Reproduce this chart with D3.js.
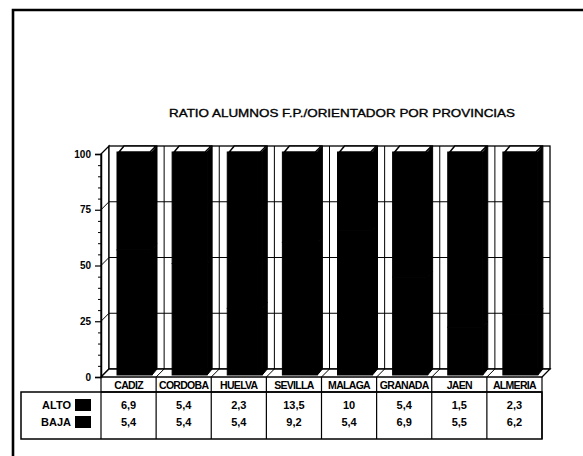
<!DOCTYPE html>
<html>
<head>
<meta charset="utf-8">
<script src="https://cdn.jsdelivr.net/npm/d3@7/dist/d3.min.js"></script>
<style>
  html, body { margin: 0; padding: 0; background: #fff; }
  svg { display: block; }
  text { font-family: "Liberation Sans", Arial, sans-serif; fill: #000; }
</style>
</head>
<body>
<svg id="chart" width="583" height="456"></svg>
<script>
const title = "RATIO ALUMNOS F.P./ORIENTADOR POR PROVINCIAS";
const categories = ["CADIZ", "CORDOBA", "HUELVA", "SEVILLA", "MALAGA", "GRANADA", "JAEN", "ALMERIA"];
const seriesNames = ["ALTO", "BAJA"];
const alto = [6.9, 5.4, 2.3, 13.5, 10, 5.4, 1.5, 2.3];
const baja = [5.4, 5.4, 5.4, 9.2, 5.4, 6.9, 5.5, 6.2];
const yTicks = [0, 25, 50, 75, 100];

const svg = d3.select("#chart");

// frame
svg.append("path")
  .attr("d", "M13,456 L13,10 L583,10")
  .attr("fill", "none").attr("stroke", "#000").attr("stroke-width", 2.6);

svg.append("text")
  .attr("x", 342).attr("y", 117)
  .attr("text-anchor", "middle")
  .attr("textLength", 346).attr("lengthAdjust", "spacingAndGlyphs")
  .style("font-size", "11.5px")
  .style("stroke", "#000").style("stroke-width", 0.35)
  .text(title);

// data: 100% stacked
const rows = categories.map((c, i) => ({ cat: c, ALTO: alto[i], BAJA: baja[i] }));
const stacked = d3.stack().keys(seriesNames).offset(d3.stackOffsetExpand)(rows);

const x0 = 101, x1 = 542;
const dx = 8, dy = -8;     // floor / wall depth
const bdx = 5, bdy = -6;   // bar depth
const x = d3.scaleBand().domain(categories).range([x0, x1]);
const y = d3.scaleLinear().domain([0, 100]).range([377, 154]);
const pct = v => v * 100;

const g = svg.append("g");
// left side wall
g.append("polygon")
  .attr("points", [[x0, y(0)], [x0 + dx, y(0) + dy], [x0 + dx, y(100) + dy], [x0, y(100)]].join(" "))
  .attr("fill", "#fff").attr("stroke", "#000").attr("stroke-width", 1.3);
// back wall
g.append("rect")
  .attr("x", x0 + dx).attr("y", y(100) + dy)
  .attr("width", x1 - x0).attr("height", y(0) - y(100))
  .attr("fill", "#fff").attr("stroke", "#000").attr("stroke-width", 1.3);
// floor
g.append("polygon")
  .attr("points", [[x0, y(0)], [x1, y(0)], [x1 + dx, y(0) + dy], [x0 + dx, y(0) + dy]].join(" "))
  .attr("fill", "#fff").attr("stroke", "#000").attr("stroke-width", 1.3);
// horizontal gridlines
yTicks.filter(t => t > 0 && t < 100).forEach(t => {
  g.append("line").attr("x1", x0 + dx).attr("x2", x1 + dx)
    .attr("y1", y(t) + dy).attr("y2", y(t) + dy)
    .attr("stroke", "#000").attr("stroke-width", 1);
  g.append("line").attr("x1", x0).attr("x2", x0 + dx)
    .attr("y1", y(t)).attr("y2", y(t) + dy)
    .attr("stroke", "#000").attr("stroke-width", 1);
});
// vertical category lines on back wall and floor
categories.slice(1).forEach(c => {
  const xx = x(c);
  g.append("line").attr("x1", xx + dx).attr("x2", xx + dx)
    .attr("y1", y(100) + dy).attr("y2", y(0) + dy)
    .attr("stroke", "#000").attr("stroke-width", 1);
  g.append("line").attr("x1", xx).attr("x2", xx + dx)
    .attr("y1", y(0)).attr("y2", y(0) + dy)
    .attr("stroke", "#000").attr("stroke-width", 1);
});

// bars (100% stacked, both series black)
const bw = 35, boff = 16, lift = 2;
stacked.forEach(layer => {
  layer.forEach((d, i) => {
    const xb = x(categories[i]) + boff;
    const yt = y(pct(d[1])) - lift, yb = y(pct(d[0])) - lift;
    g.append("polygon")
      .attr("points", [[xb + bw, yt], [xb + bw + bdx, yt + bdy], [xb + bw + bdx, yb + bdy], [xb + bw, yb]].join(" "))
      .attr("fill", "#000").attr("stroke", "#000").attr("stroke-width", 1);
    g.append("rect").attr("x", xb).attr("y", yt)
      .attr("width", bw).attr("height", yb - yt)
      .attr("fill", "#000").attr("stroke", "#000").attr("stroke-width", 1);
  });
});
const topLayer = stacked[stacked.length - 1];
topLayer.forEach((d, i) => {
  const xb = x(categories[i]) + boff;
  const yt = y(pct(d[1])) - lift;
  g.append("polygon")
    .attr("points", [[xb + 2, yt], [xb + bw - 2, yt], [xb + bw + bdx - 1, yt + bdy], [xb + bdx + 2, yt + bdy]].join(" "))
    .attr("fill", "#fff").attr("stroke", "#000").attr("stroke-width", 1.5);
});

// axis
const yAxis = d3.axisLeft(y).tickValues(yTicks).tickSize(6).tickPadding(4);
const ax = svg.append("g").attr("transform", `translate(${x0},0)`).call(yAxis);
ax.select(".domain").attr("stroke-width", 1.5);
ax.selectAll(".tick line").attr("stroke-width", 1.2);
ax.selectAll("text").style("font-size", "10px").style("font-weight", "bold").style("font-family", "Liberation Sans, Arial, sans-serif");
const minor = d3.range(0, 101, 5).filter(v => !yTicks.includes(v));
svg.append("g").attr("transform", `translate(${x0},0)`)
  .call(d3.axisLeft(y).tickValues(minor).tickSize(3).tickFormat(""))
  .call(s => s.select(".domain").remove());

// table
const hdrBot = 392, tBot = 439, legLeft = 21;
const tg = svg.append("g");
tg.append("line").attr("x1", x0).attr("x2", x1).attr("y1", hdrBot).attr("y2", hdrBot).attr("stroke", "#000").attr("stroke-width", 1.4);
categories.concat([null]).forEach(c => {
  const xx = c ? x(c) : x1;
  tg.append("line").attr("x1", xx).attr("x2", xx).attr("y1", y(0)).attr("y2", tBot)
    .attr("stroke", "#000").attr("stroke-width", 1.2);
});
tg.append("rect").attr("x", legLeft).attr("y", hdrBot).attr("width", x1 - legLeft).attr("height", tBot - hdrBot)
  .attr("fill", "none").attr("stroke", "#000").attr("stroke-width", 1.5);
tg.selectAll("text.hdr").data(categories).join("text")
  .attr("class", "hdr")
  .attr("x", d => x(d) + x.bandwidth() / 2).attr("y", 389)
  .attr("text-anchor", "middle")
  .style("font-size", "10.5px").style("font-weight", "bold").style("letter-spacing", "-0.7px")
  .text(d => d);

const fmt = v => String(v).replace(".", ",");
const rowY = [409, 426];
[alto, baja].forEach((vals, r) => {
  tg.selectAll("text.v" + r).data(vals).join("text")
    .attr("class", "v" + r)
    .attr("x", (d, i) => x(categories[i]) + x.bandwidth() / 2).attr("y", rowY[r])
    .attr("text-anchor", "middle")
    .style("font-size", "11px").style("font-weight", "bold")
    .text(fmt);
  tg.append("text").attr("x", 71).attr("y", rowY[r]).attr("text-anchor", "end")
    .style("font-size", "11px").style("font-weight", "bold").text(seriesNames[r]);
  tg.append("rect").attr("x", 75).attr("y", rowY[r] - 10).attr("width", 16).attr("height", 12).attr("fill", "#000");
});
</script>
</body>
</html>
